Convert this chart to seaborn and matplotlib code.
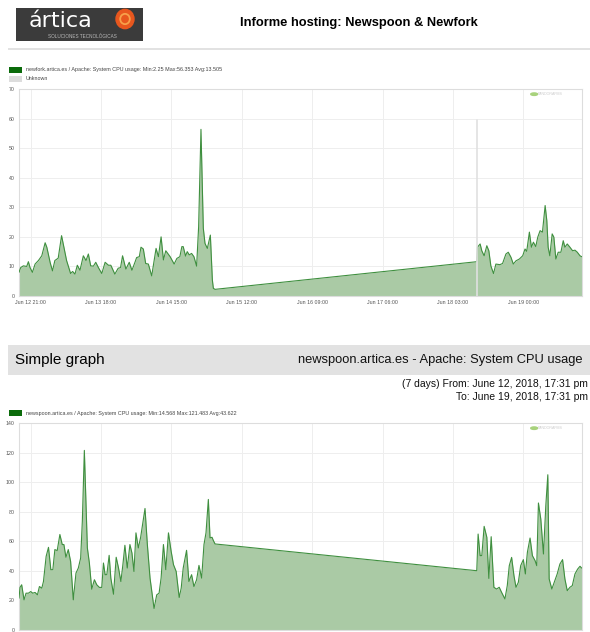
import matplotlib
matplotlib.use('Agg')
import matplotlib.pyplot as plt
import matplotlib.dates as mdates
from matplotlib.patches import Rectangle, Circle
import numpy as np
import pandas as pd
import seaborn as sns

# time window of the report
start = pd.Timestamp('2018-06-12 17:31')
end = pd.Timestamp('2018-06-19 17:31')
tick_times = pd.date_range('2018-06-12 21:00', periods=8, freq='21h')

# newfork: hours since start / CPU usage
newfork_hours = [0, 0.5, 1.3, 2.3, 2.8, 3.3, 4.0, 4.8, 5.8, 6.8, 7.8, 8.3, 9.3, 10.0, 10.7,
                 11.7, 12.7, 13.4, 14.2, 15.4, 16.0, 16.7, 17.4, 18.2, 19.2, 20.0, 20.7,
                 21.4, 22.2, 22.9, 23.7, 24.7, 25.7, 26.7, 27.4, 28.6, 29.6, 30.3, 30.9,
                 31.9, 32.9, 33.7, 34.6, 35.1, 35.9, 36.4, 37.1, 37.8, 38.6, 39.6, 40.9,
                 41.6, 42.4, 43.1, 43.8, 45.1, 46.3, 47.1, 48.0, 48.6, 49.0, 49.7, 50.2,
                 50.8, 51.5, 52.2, 53.0, 53.6, 54.3, 55.0, 55.5, 56.2, 57.1, 57.7, 58.0,
                 58.5, 136.6, 136.8, 137.6, 138.1, 138.8, 139.6, 140.2, 140.8, 141.6,
                 142.3, 143.5, 144.3, 145.3, 146.0, 146.8, 147.5, 148.3, 149.3, 150.3,
                 151.0, 151.5, 152.3, 152.9, 153.5, 154.2, 154.8, 155.5, 156.2, 157.0,
                 157.5, 157.9, 158.4, 159.1, 159.6, 160.2, 160.9, 161.7, 162.4, 162.9,
                 163.6, 164.4, 165.2, 165.9, 166.6, 167.4, 167.9]
newfork_cpu = [8.0, 9.6, 10.2, 10.0, 11.6, 9.6, 8.0, 10.8, 12.0, 13.6, 18.0, 16.5, 11.3, 8.5,
               12.0, 12.8, 20.4, 16.5, 12.0, 7.6, 8.3, 7.4, 10.4, 8.7, 13.6, 12.0, 14.2,
               10.2, 10.1, 11.4, 9.6, 7.6, 11.4, 10.4, 10.4, 7.4, 9.4, 9.6, 13.6, 9.1,
               11.4, 8.7, 11.4, 13.0, 13.3, 16.5, 15.9, 11.0, 10.8, 6.8, 16.1, 13.3,
               20.0, 12.2, 15.3, 13.3, 10.8, 12.7, 13.3, 16.7, 16.7, 13.5, 15.0, 13.9,
               14.4, 13.3, 10.1, 23.4, 56.353, 22.9, 17.8, 16.1, 20.6, 5.4, 2.6, 2.25,
               11.6, 16.5, 17.6, 15.3, 13.6, 17.0, 15.3, 10.2, 7.6, 10.8, 10.6, 11.0,
               14.2, 14.8, 13.1, 10.8, 11.9, 12.5, 13.6, 15.9, 15.1, 21.6, 16.5, 18.2,
               16.7, 19.9, 22.1, 21.6, 30.6, 25.5, 16.5, 13.6, 21.0, 19.9, 12.5, 14.8,
               14.8, 18.7, 16.5, 17.6, 16.5, 15.3, 15.5, 14.8, 13.6, 13.3]

# newspoon: hours since start / CPU usage
newspoon_hours = [0, 0.3, 0.8, 1.5, 2.1, 2.8, 3.5, 4.1, 4.8, 5.5, 6.1, 6.8, 7.3, 8.1, 8.8,
                  9.5, 10.1, 10.7, 11.4, 12.2, 12.9, 13.4, 14.0, 14.7, 15.4, 16.2, 17.0,
                  17.7, 18.4, 18.9, 19.5, 20.0, 20.4, 21.0, 21.7, 22.5, 23.2, 24.0, 24.7,
                  25.2, 25.7, 26.2, 26.9, 27.4, 28.2, 29.0, 29.7, 30.4, 31.0, 31.6, 32.3,
                  33.1, 33.7, 34.3, 34.9, 35.6, 36.3, 37.6, 38.3, 39.1, 40.3, 41.1, 41.8,
                  42.4, 43.1, 43.8, 44.6, 45.4, 46.1, 46.9, 47.8, 48.4, 49.0, 50.0, 50.7,
                  51.5, 52.2, 53.0, 53.7, 54.5, 55.2, 55.8, 56.5, 57.0, 57.6, 58.0, 58.5,
                  136.6, 137.0, 137.6, 138.1, 138.8, 139.6, 140.2, 140.9, 141.7, 142.5,
                  143.3, 144.0, 145.0, 145.7, 146.3, 147.0, 147.7, 148.3, 149.0, 149.7,
                  150.5, 151.1, 151.7, 152.5, 153.2, 154.0, 154.5, 155.0, 155.7, 156.5,
                  157.2, 157.8, 158.2, 159.0, 159.7, 160.6, 161.4, 162.2, 162.9, 163.6,
                  164.4, 165.1, 165.9, 166.7, 167.4, 167.9]
newspoon_cpu = [21.5, 28.8, 30.6, 20.4, 24.9, 24.9, 26.0, 24.9, 25.4, 23.8, 29.4, 28.3, 32.8,
                49.8, 55.9, 40.8, 40.8, 54.4, 53.7, 64.6, 57.8, 57.8, 49.2, 54.4, 46.4,
                20.4, 38.5, 41.9, 48.7, 73.6, 121.483, 84.9, 55.5, 45.3, 27.6, 34.0, 30.6,
                28.8, 28.8, 45.3, 37.4, 37.4, 50.5, 35.1, 24.2, 49.2, 41.9, 32.8, 44.2,
                57.3, 41.9, 57.8, 52.1, 39.6, 65.7, 55.5, 62.7, 82.2, 57.8, 35.1, 14.568,
                23.8, 24.9, 35.1, 57.8, 40.8, 65.7, 53.2, 44.2, 39.6, 22.0, 28.3, 41.9,
                53.9, 32.8, 37.4, 29.4, 34.0, 43.7, 35.1, 57.8, 65.7, 88.3, 62.3, 62.7,
                60.5, 58.2, 40.1, 64.9, 50.3, 50.3, 70.1, 62.7, 34.9, 63.1, 28.9, 27.7,
                28.9, 25.5, 21.0, 30.0, 43.5, 49.1, 36.7, 28.9, 32.2, 43.5, 47.6, 37.9,
                52.5, 62.2, 50.3, 46.9, 43.5, 85.9, 75.1, 51.4, 84.1, 105.0, 34.5, 27.7,
                32.2, 37.9, 44.6, 47.6, 34.5, 26.6, 28.9, 30.0, 37.9, 41.2, 43.1, 41.9]

unknown_hour = 136.7
unknown_top = 59.5

newfork_label = 'newfork.artica.es / Apache: System CPU usage: Min:2.25 Max:56.353 Avg:13.505'
newspoon_label = 'newspoon.artica.es / Apache: System CPU usage: Min:14.568 Max:121.483 Avg:43.622'

W, H = 590, 632
FILL = '#aacaa5'
LINE = '#3f8f3f'
LEG_GREEN = '#0b6b0b'

sns.set_style('white')
plt.rcParams['font.family'] = ['Liberation Sans', 'DejaVu Sans']

fig = plt.figure(figsize=(W / 100, H / 100), dpi=100)


def fx(x):
    return x / W


def fy(y):
    return 1 - y / H


def box(x0, y0, x1, y1, color, **kw):
    fig.add_artist(Rectangle((fx(x0), fy(y1)), fx(x1) - fx(x0), fy(y0) - fy(y1),
                             transform=fig.transFigure, facecolor=color,
                             edgecolor='none', **kw))


def to_time(hours):
    return start + pd.to_timedelta(np.asarray(hours), unit='h')


def draw_graph(ax, hours, cpu, ymax, ystep, xlabels=True):
    t = to_time(hours)
    ax.fill_between(t, 0, cpu, color=FILL, linewidth=0, zorder=2)
    sns.lineplot(x=t, y=cpu, ax=ax, color=LINE, linewidth=0.8, zorder=3)
    ax.set_xlim(start, end)
    ax.set_ylim(0, ymax)
    ax.set_yticks(np.arange(0, ymax + 1, ystep))
    ax.set_xticks(tick_times)
    ax.xaxis.set_major_formatter(mdates.DateFormatter('%b %d %H:%M'))
    ax.grid(True, color='#eeeeee', linewidth=0.7, zorder=0)
    ax.set_axisbelow(True)
    ax.tick_params(length=0, pad=3, labelsize=3.8, colors='#555555',
                   labelbottom=xlabels)
    ax.set_xlabel('')
    ax.set_ylabel('')
    for s in ax.spines.values():
        s.set_color('#dddddd')
        s.set_linewidth(0.8)
    # pandora fms watermark
    ax.add_artist(Circle((0.915, 0.975), 0.006, transform=ax.transAxes,
                         color='#a8d27c', zorder=5))
    ax.text(0.922, 0.975, 'PANDORAFMS', transform=ax.transAxes, fontsize=2.6,
            color='#cccccc', va='center', ha='left', zorder=5)


# header: logo + title
box(16, 8, 143, 41, '#3b3b3b')
fig.text(fx(29), fy(21), 'ártica', fontsize=16, color='white', va='center', ha='left',
         family='DejaVu Sans')
fig.add_artist(Circle((fx(125), fy(19)), 9 / W, transform=fig.transFigure,
                      color='#e8571e'))
fig.add_artist(Circle((fx(125), fy(19)), 4.8 / W, transform=fig.transFigure,
                      facecolor='none', edgecolor='#f7a04a', linewidth=1.3))
fig.text(fx(82), fy(36.5), 'SOLUCIONES TECNOLÓGICAS', fontsize=3.3, color='#bbbbbb',
         va='center', ha='center')
fig.text(fx(359), fy(23), 'Informe hosting: Newspoon & Newfork', fontsize=9.3,
         fontweight='bold', va='center', ha='center', color='black')
box(8, 48, 590, 50, '#e2e2e2')

# first graph legend
box(9, 67, 22, 73, LEG_GREEN)
fig.text(fx(26), fy(70), newfork_label, fontsize=3.9, color='#444444', va='center')
box(9, 76, 22, 82, '#dddddd')
fig.text(fx(26), fy(79), 'Unknown', fontsize=3.9, color='#444444', va='center')

ax1 = fig.add_axes([fx(19), fy(296), fx(582) - fx(19), fy(89) - fy(296)])
draw_graph(ax1, newfork_hours, newfork_cpu, 70, 10)
ut = to_time([unknown_hour])[0]
ax1.plot([ut, ut], [0, unknown_top], color='#e0e0e0', linewidth=1.2, zorder=4)

# simple graph header band
box(8, 345, 590, 375, '#e2e2e2')
fig.text(fx(15), fy(360), 'Simple graph', fontsize=11, color='black', va='center')
fig.text(fx(583), fy(360), 'newspoon.artica.es - Apache: System CPU usage', fontsize=9.3,
         color='#111111', va='center', ha='right')
fig.text(fx(588), fy(384), '(7 days) From: June 12, 2018, 17:31 pm', fontsize=7.5,
         color='#111111', va='center', ha='right')
fig.text(fx(588), fy(397), 'To: June 19, 2018, 17:31 pm', fontsize=7.5,
         color='#111111', va='center', ha='right')

# second graph legend
box(9, 410, 22, 416, LEG_GREEN)
fig.text(fx(26), fy(413), newspoon_label, fontsize=3.9, color='#444444', va='center')

# x labels of the second graph fall below the page, as in the report
ax2 = fig.add_axes([fx(19), fy(630), fx(582) - fx(19), fy(423) - fy(630)])
draw_graph(ax2, newspoon_hours, newspoon_cpu, 140, 20, xlabels=False)

fig.savefig('out.png', dpi=100)
